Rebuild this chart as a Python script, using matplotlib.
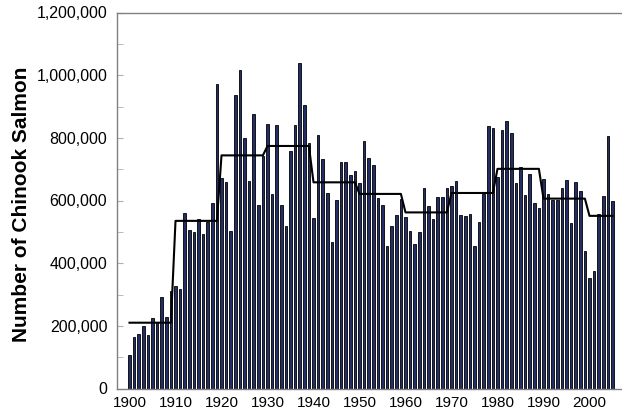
import matplotlib
matplotlib.use("Agg")
import matplotlib.pyplot as plt
import numpy as np
from matplotlib.ticker import FuncFormatter, MultipleLocator

# annual chinook returns, 1900-2005
years = np.arange(1900, 2006)
counts = [
    107000, 165000, 173000, 198000, 171000, 224000, 213000, 293000, 227000, 310000,
    327000, 317000, 559000, 506000, 500000, 541000, 493000, 532000, 591000, 971000,
    671000, 658000, 504000, 937000, 1016000, 798000, 662000, 876000, 586000, 742000,
    844000, 620000, 841000, 585000, 520000, 758000, 840000, 1040000, 904000, 784000,
    543000, 809000, 731000, 624000, 466000, 601000, 722000, 723000, 680000, 693000,
    655000, 791000, 735000, 713000, 607000, 585000, 454000, 518000, 553000, 606000,
    546000, 503000, 460000, 500000, 639000, 581000, 540000, 611000, 611000, 639000,
    646000, 661000, 554000, 551000, 556000, 454000, 531000, 620000, 837000, 831000,
    674000, 825000, 855000, 814000, 657000, 706000, 618000, 685000, 591000, 575000,
    670000, 620000, 603000, 603000, 640000, 664000, 528000, 659000, 630000, 439000,
    352000, 375000, 558000, 615000, 805000, 600000,
]

# decade averages shown by the black line
decade_starts = [1900, 1910, 1920, 1930, 1940, 1950, 1960, 1970, 1980, 1990, 2000]
decade_means = [210000, 535000, 744000, 774000, 658000, 621000, 562000, 624000,
                701000, 606000, 551000]

tick_years = list(range(1900, 2001, 10))

plt.rcParams['font.family'] = ['Liberation Sans', 'DejaVu Sans']

fig = plt.figure(figsize=(6.22, 4.16), dpi=100)
ax = fig.add_axes([117 / 622, 27.5 / 416, 504 / 622, 376 / 416])

ax.bar(years, counts, width=0.58, color='#232d66', edgecolor='black',
       linewidth=0.6, zorder=2)

# line value for each year = average of its decade
line_vals = []
for y in years:
    idx = max(i for i, d in enumerate(decade_starts) if d <= y)
    line_vals.append(decade_means[idx])
ax.plot(years, line_vals, color='black', linewidth=1.5, zorder=3)

ax.set_xlim(1897.28, 2006.85)
ax.set_ylim(0, 1200000)

ax.set_xticks(tick_years)
ax.set_xticklabels([str(t) for t in tick_years])
ax.yaxis.set_major_locator(MultipleLocator(200000))
ax.yaxis.set_minor_locator(MultipleLocator(100000))
ax.yaxis.set_major_formatter(FuncFormatter(lambda v, p: f'{int(v):,}'))

ax.tick_params(axis='x', length=0, pad=5.5, labelsize=11)
ax.tick_params(axis='y', which='both', direction='in', length=4,
               color='#b0b0b0', pad=7, labelsize=11.5)

for side in ['left', 'bottom', 'top']:
    ax.spines[side].set_color('#808080')
    ax.spines[side].set_linewidth(1.0)
ax.spines['right'].set_visible(False)

ax.set_ylabel('Number of Chinook Salmon', fontsize=15, fontweight='bold')
ax.yaxis.set_label_coords(-0.17, 0.49)

fig.savefig('out.png', dpi=100)
